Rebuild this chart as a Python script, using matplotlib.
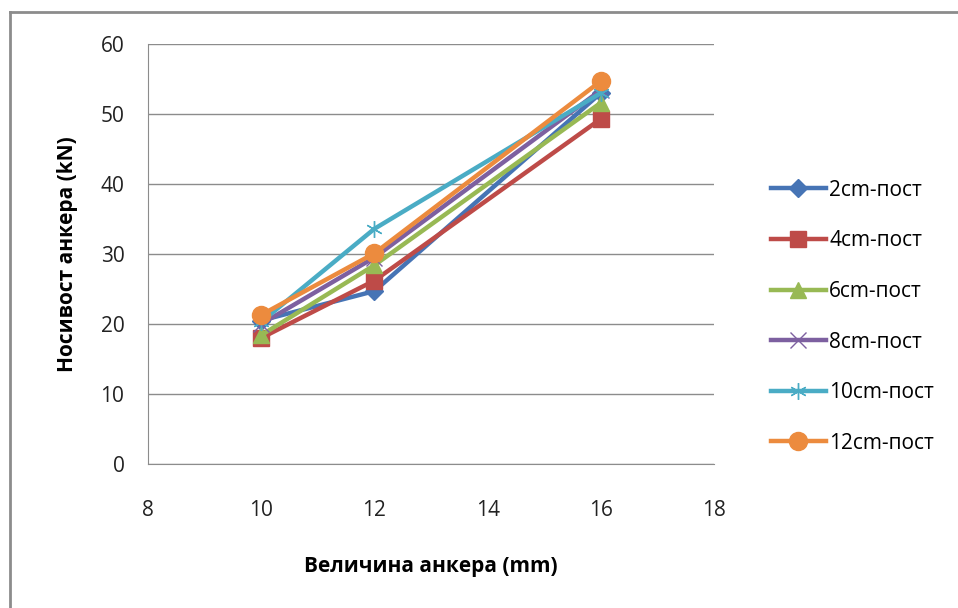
import matplotlib
matplotlib.use("Agg")
import matplotlib.pyplot as plt
from matplotlib.lines import Line2D

plt.rcParams['font.family'] = ['Open Sans', 'DejaVu Sans']

x_vals = [10, 12, 16]
labels = ["2cm-пост", "4cm-пост", "6cm-пост", "8cm-пост", "10cm-пост", "12cm-пост"]
s2 = [20.5, 24.7, 53.0]
s4 = [18.0, 26.2, 49.3]
s6 = [18.4, 28.4, 51.6]
s8 = [20.0, 29.5, 53.4]
s10 = [20.3, 33.6, 53.0]
s12 = [21.3, 30.1, 54.7]
series = [s2, s4, s6, s8, s10, s12]
colors = ["#4674B5", "#BE4B48", "#98B954", "#7D60A0", "#4AACC5", "#EC8B3E"]
markers = ["D", "s", "^", "x", "*", "o"]
msizes = [9, 12, 12, 11, 12, 13]

fig = plt.figure(figsize=(9.58, 6.08), dpi=100)
ax = fig.add_axes([148/958, 1-464/608, (714-148)/958, (464-44)/608])

for vals, lab, c, m, ms in zip(series, labels, colors, markers, msizes):
    if m in ("x", "*"):
        ax.plot(x_vals, vals, color=c, lw=3.2, marker='x' if m == 'x' else (6, 2, 0),
                markersize=ms, markeredgewidth=1.0, label=lab)
    else:
        ax.plot(x_vals, vals, color=c, lw=3.2, marker=m, markersize=ms,
                markeredgecolor=c, label=lab)

ax.set_xlim(8, 18)
ax.set_ylim(0, 60)
ax.set_xticks([8, 10, 12, 14, 16, 18])
ax.set_yticks([0, 10, 20, 30, 40, 50, 60])
ax.grid(axis='y', color='#8c8c8c', lw=1)
ax.set_axisbelow(True)
for s in ['top', 'right']:
    ax.spines[s].set_visible(False)
for s in ['left', 'bottom']:
    ax.spines[s].set_color('#8c8c8c')
ax.tick_params(length=0, labelsize=15, colors='#222222')
ax.tick_params(axis='y', pad=17)
ax.tick_params(axis='x', pad=26)
ax.set_xlabel("Величина анкера (mm)", fontsize=15, fontweight='bold', labelpad=25)
ax.set_ylabel("Носивост анкера (kN)", fontsize=15, fontweight='bold', labelpad=16)

leg = fig.legend(loc='upper left', bbox_to_anchor=(752/958, 1-161/608), frameon=False,
                 fontsize=15, handlelength=2.65, labelspacing=1.42, handletextpad=0.15)

# outer chart border
fig.add_artist(Line2D([10/958, 10/958], [0, 1-12/608], transform=fig.transFigure,
                      color='#8c8c8c', lw=2))
fig.add_artist(Line2D([10/958, 1], [1-12/608, 1-12/608], transform=fig.transFigure,
                      color='#8c8c8c', lw=2))

fig.savefig("out.png", dpi=100)
